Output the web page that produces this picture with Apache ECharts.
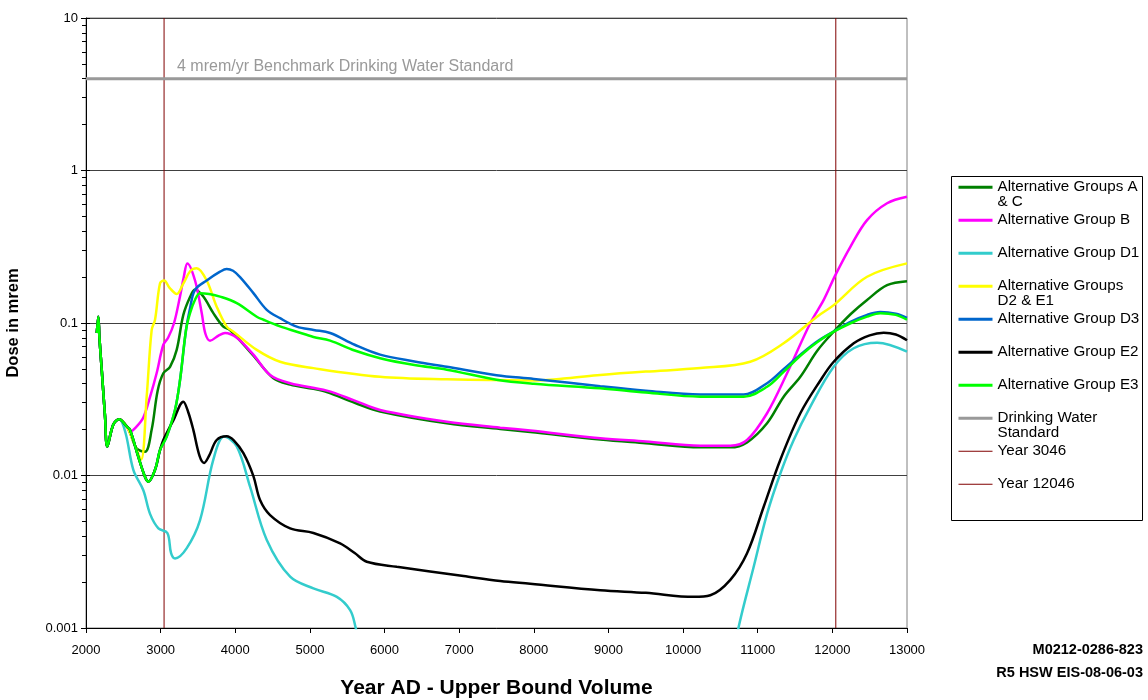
<!DOCTYPE html>
<html><head><meta charset="utf-8">
<script src="https://cdn.jsdelivr.net/npm/echarts@6/dist/echarts.min.js"></script>
<style>html,body{margin:0;padding:0;background:#fff}#c{width:1148px;height:700px}</style>
</head><body><div id="c"></div>
<script>
// ---- data (year AD, dose in mrem) ----
const commonStart = [[2145,0.086],[2165,0.11],[2180,0.08],[2210,0.05],[2255,0.0243],[2285,0.0155],[2366,0.0216],[2446,0.0234]];

const groupAC = [[2545,0.021],[2600,0.0185],[2680,0.015],[2790,0.0143],[2880,0.02],[2960,0.036],[3036,0.0468],[3126,0.0516],[3215,0.0666],[3304,0.113],[3394,0.148],[3461,0.166],[3572,0.149],[3706,0.116],[3840,0.0946],[3930,0.09],[4243,0.061],[4511,0.0434],[4735,0.0395],[5047,0.037],[5226,0.0352],[5600,0.03],[5941,0.0263],[6835,0.022],[7550,0.0202],[7952,0.0193],[8890,0.0172],[9500,0.0163],[10231,0.0153],[10633,0.0153],[10857,0.0165],[11125,0.022],[11350,0.033],[11571,0.0444],[11800,0.066],[12018,0.0877],[12250,0.115],[12465,0.1417],[12733,0.177],[13000,0.188]];

const groupB = [[2545,0.021],[2590,0.0194],[2680,0.021],[2768,0.024],[2860,0.033],[2947,0.047],[3036,0.072],[3100,0.08],[3180,0.1],[3260,0.15],[3310,0.2],[3358,0.246],[3461,0.19],[3551,0.116],[3600,0.085],[3662,0.0766],[3780,0.083],[3863,0.086],[4020,0.08],[4243,0.062],[4466,0.0456],[4735,0.0403],[5226,0.036],[5600,0.031],[5941,0.0269],[6835,0.0225],[7550,0.0206],[7952,0.0197],[8890,0.01755],[9500,0.0167],[10231,0.01567],[10633,0.0157],[10857,0.0171],[11125,0.0256],[11393,0.0468],[11705,0.1],[11884,0.1417],[12040,0.206],[12241,0.316],[12465,0.473],[12733,0.61],[13000,0.673]];

const groupD1 = [[2530,0.019],[2634,0.0109],[2768,0.008],[2858,0.0056],[2970,0.0045],[3090,0.0042],[3140,0.0031],[3193,0.00286],[3350,0.00334],[3528,0.0051],[3706,0.0127],[3850,0.018],[4020,0.0155],[4198,0.00845],[4422,0.00378],[4735,0.00217],[5047,0.00182],[5361,0.0016],[5539,0.00131],[5610,0.00102],[5650,0.0008],[8000,null],[10720,0.0008],[10745,0.00102],[10946,0.00252],[11125,0.0056],[11303,0.0103],[11482,0.0171],[11705,0.0283],[12018,0.0516],[12286,0.0683],[12600,0.0743],[13000,0.0649]];

const groupD2E1 = [[2545,0.021],[2640,0.0165],[2737,0.0127],[2813,0.0329],[2880,0.09],[2925,0.105],[2992,0.182],[3046,0.19],[3120,0.17],[3215,0.155],[3300,0.18],[3400,0.22],[3483,0.229],[3617,0.19],[3751,0.128],[3885,0.0946],[3975,0.0877],[4288,0.0666],[4600,0.0557],[5047,0.0506],[5941,0.0444],[6835,0.0427],[7952,0.042],[8443,0.0434],[8890,0.0456],[9500,0.048],[10231,0.0506],[10900,0.0557],[11347,0.0736],[11794,0.11],[12018,0.131],[12465,0.201],[13000,0.246]];

const groupD3 = [[2545,0.021],[2590,0.0199],[2700,0.0133],[2790,0.0098],[2835,0.0091],[2925,0.0109],[2992,0.0147],[3081,0.018],[3193,0.027],[3260,0.0423],[3340,0.09],[3394,0.125],[3461,0.165],[3617,0.19],[3796,0.217],[3885,0.226],[3970,0.22],[4064,0.2],[4243,0.157],[4422,0.122],[4600,0.1075],[4824,0.0946],[5050,0.09],[5271,0.086],[5600,0.072],[5941,0.062],[6400,0.056],[6835,0.0516],[7500,0.0455],[8000,0.043],[8890,0.0385],[9500,0.036],[10231,0.034],[10812,0.034],[11125,0.0403],[11350,0.05],[11571,0.062],[11800,0.076],[12018,0.088],[12250,0.102],[12465,0.113],[12643,0.118],[12850,0.115],[13000,0.108]];

const groupE2 = [[2545,0.021],[2590,0.0199],[2700,0.0133],[2790,0.0098],[2835,0.0091],[2925,0.0109],[2992,0.0147],[3036,0.0171],[3170,0.023],[3304,0.0305],[3370,0.026],[3438,0.0199],[3520,0.0135],[3582,0.0121],[3650,0.0135],[3751,0.0171],[3885,0.0181],[3980,0.017],[4109,0.014],[4243,0.0099],[4332,0.0069],[4466,0.0055],[4735,0.0045],[5047,0.0042],[5405,0.00359],[5600,0.0031],[5762,0.00272],[6164,0.00252],[7058,0.00219],[7550,0.00203],[7952,0.00195],[8890,0.00177],[9500,0.0017],[10141,0.0016],[10365,0.00164],[10633,0.00207],[10857,0.00309],[11080,0.00624],[11303,0.0127],[11571,0.0256],[11839,0.042],[12018,0.0557],[12286,0.0736],[12500,0.083],[12688,0.0863],[12850,0.084],[13000,0.077]];

const groupE3 = [[2545,0.021],[2590,0.0199],[2700,0.0133],[2790,0.0098],[2835,0.0091],[2925,0.0109],[2992,0.0147],[3081,0.018],[3193,0.027],[3260,0.0423],[3340,0.09],[3394,0.116],[3461,0.142],[3528,0.157],[3650,0.155],[3796,0.149],[4020,0.135],[4288,0.11],[4377,0.105],[4600,0.095],[4824,0.0877],[5047,0.081],[5271,0.0766],[5600,0.066],[5941,0.0588],[6400,0.053],[6835,0.0494],[7500,0.0425],[8000,0.04],[8890,0.0373],[9500,0.035],[10231,0.0329],[10812,0.0329],[11125,0.0382],[11350,0.048],[11571,0.061],[11800,0.075],[12018,0.0877],[12250,0.1],[12465,0.11],[12643,0.116],[12850,0.113],[13000,0.105]];

const drinkingWaterStd = [[2000,4],[13000,4]];
const year3046 = [[3046,0.001],[3046,10]];
const year12046 = [[12046,0.001],[12046,10]];

const xTicks = {min:2000, max:13000, step:1000};
const yMajorTicks = [0.001,0.01,0.1,1,10];
const yMinorFactors = [2,3,4,5,6,7,8,9];

const seriesNames = ['Alternative Groups A & C','Alternative Group B','Alternative Group D1','Alternative Groups D2 & E1','Alternative Group D3','Alternative Group E2','Alternative Group E3','Drinking Water Standard','Year 3046','Year 12046'];
const legendText = {
  'Alternative Groups A & C':'Alternative Groups A\n& C',
  'Alternative Groups D2 & E1':'Alternative Groups\nD2 & E1',
  'Drinking Water Standard':'Drinking Water\nStandard'
};
const colors = ['#008000','#ff00ff','#33cccc','#ffff00','#0066cc','#000000','#00ff00','#999999','#800000','#800000'];
const seriesData = [
  commonStart.concat(groupAC), commonStart.concat(groupB), commonStart.concat(groupD1),
  commonStart.concat(groupD2E1), commonStart.concat(groupD3), commonStart.concat(groupE2),
  commonStart.concat(groupE3), drinkingWaterStd, year3046, year12046
];
const widths = [2.5,2.5,2.5,2.5,2.5,2.5,2.5,3,1,1];

const minorTickValues = [];
yMajorTicks.slice(0,-1).forEach(d => yMinorFactors.forEach(f => minorTickValues.push(+(d*f).toPrecision(3))));

const FONT = '"Liberation Sans", Arial, sans-serif';
const chart = echarts.init(document.getElementById('c'), null, {renderer:'canvas'});

const series = seriesNames.map((n,i) => ({
  name:n, type:'line', data:seriesData[i], symbol:'none', showSymbol:false,
  smooth: i < 7 ? 0.35 : false, connectNulls:false, clip:true,
  lineStyle:{color:colors[i], width:widths[i]}, itemStyle:{color:colors[i]},
  emphasis:{disabled:true}, animation:false, z: i >= 8 ? 1 : 2
}));

const legendData = seriesNames.map((n,i) => ({name:n, lineStyle:{width: i >= 8 ? 1.2 : 3, color:colors[i], opacity:1}}));

// every legend entry is three lines tall: blank, first line (aligned with icon), optional wrap line
const LH = 14.5;
const legendFmt = n => { const t = legendText[n] || (n + '\n '); return '\n' + t; };

const yLabelFmt = v => { let best=yMajorTicks[0]; yMajorTicks.forEach(t=>{ if (Math.abs(Math.log10(t)-Math.log10(v)) < Math.abs(Math.log10(best)-Math.log10(v))) best=t; }); return String(best); };

chart.setOption({
  animation:false,
  backgroundColor:'#fff',
  textStyle:{fontFamily:FONT},
  grid:{left:86, right:241, top:18, bottom:72, show:true, borderColor:'#808080', borderWidth:1, outerBoundsMode:'none', containLabel:false},
  xAxis:{type:'value', min:xTicks.min, max:xTicks.max, interval:xTicks.step,
    axisLine:{lineStyle:{color:'#000', width:1}},
    axisTick:{length:5, lineStyle:{color:'#000'}},
    axisLabel:{color:'#000', fontSize:13, margin:16, fontFamily:FONT, formatter:v => String(v)},
    splitLine:{show:false},
    name:'Year AD - Upper Bound Volume', nameLocation:'middle', nameGap:50,
    nameTextStyle:{fontWeight:'bold', fontSize:21, color:'#000', fontFamily:FONT}},
  yAxis:[{type:'log', logBase:10, min:0.001, max:10,
    axisLine:{show:true, lineStyle:{color:'#000', width:1}},
    axisTick:{show:true, length:5, customValues:yMajorTicks, lineStyle:{color:'#000'}},
    axisLabel:{color:'#000', fontSize:13, margin:8, fontFamily:FONT, customValues:yMajorTicks, formatter:yLabelFmt},
    splitLine:{show:true, lineStyle:{color:'#404040', width:1}},
    name:'Dose in mrem', nameLocation:'middle', nameGap:64,
    nameTextStyle:{fontWeight:'bold', fontSize:16.5, color:'#000', fontFamily:FONT}},
   {type:'log', logBase:10, min:0.001, max:10, position:'left',
    axisLine:{show:false}, axisLabel:{show:false}, splitLine:{show:false},
    axisTick:{show:true, inside:false, length:4, customValues:minorTickValues, lineStyle:{color:'#000'}}},
   {type:'log', logBase:10, min:0.001, max:10, position:'left',
    axisLine:{show:false}, axisLabel:{show:false}, splitLine:{show:false},
    axisTick:{show:true, inside:true, length:4, customValues:yMajorTicks, lineStyle:{color:'#000'}}}],
  legend:{orient:'vertical', left:957, top:187 - 1.5*LH, padding:0, itemWidth:34, itemHeight:14, itemGap:-11,
    data:legendData, selectedMode:false,
    itemStyle:{opacity:0, borderWidth:0},
    formatter:legendFmt,
    textStyle:{color:'#000', fontSize:15.2, lineHeight:LH, fontFamily:FONT}},
  series:series,
  graphic:[
    {type:'rect', shape:{x:951.5, y:176.5, width:191, height:344}, style:{fill:null, stroke:'#000', lineWidth:1}, silent:true},
    {type:'text', x:177, y:59, style:{text:'4 mrem/yr Benchmark Drinking Water Standard', fill:'#999999', font:'16px '+FONT}, silent:true},
    {type:'text', x:1143, y:642, style:{text:'M0212-0286-823', fill:'#000', font:'bold 14.5px '+FONT, align:'right'}, silent:true},
    {type:'text', x:1143, y:665, style:{text:'R5 HSW EIS-08-06-03', fill:'#000', font:'bold 14.5px '+FONT, align:'right'}, silent:true}
  ]
});
</script></body></html>
